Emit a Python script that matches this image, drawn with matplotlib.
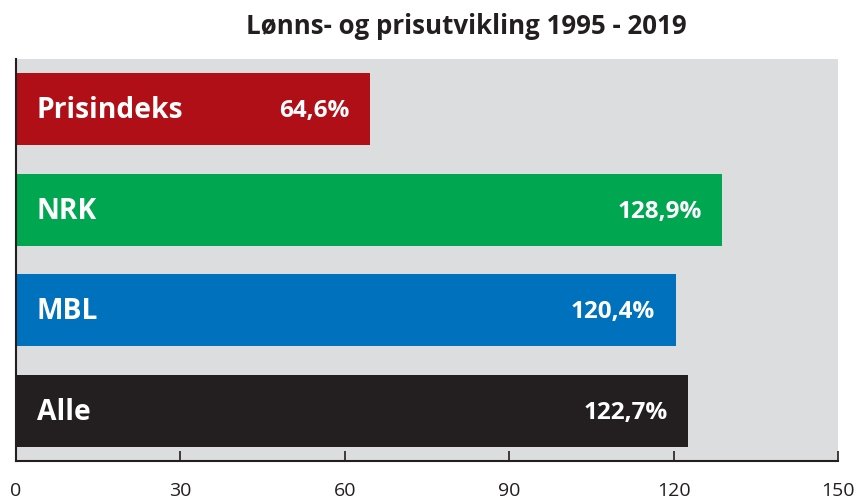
import matplotlib
matplotlib.use("Agg")
import matplotlib.pyplot as plt

categories = ["Prisindeks", "NRK", "MBL", "Alle"]
values = [64.6, 128.9, 120.4, 122.7]
value_labels = ["64,6%", "128,9%", "120,4%", "122,7%"]
colors = ["#B10F17", "#00A650", "#0071BC", "#231F20"]
xticks = [0, 30, 60, 90, 120, 150]
title = "Lønns- og prisutvikling 1995 - 2019"

plt.rcParams["font.family"] = ["Open Sans", "DejaVu Sans"]

fig = plt.figure(figsize=(8.56, 4.99), dpi=100)
ax = fig.add_axes([16 / 856, 38 / 499, (838 - 16) / 856, (461 - 59) / 499])
ax.set_facecolor("#DCDDDE")

ypos = list(range(len(categories)))
ax.barh(ypos, values, height=0.715, color=colors, zorder=2)

for y, cat, v, lab in zip(ypos, categories, values, value_labels):
    ax.annotate(cat, xy=(0, y), xytext=(15, -1), textcoords="offset points",
                ha="left", va="center", color="white", fontsize=20.3,
                fontweight="bold", zorder=3)
    ax.annotate(lab, xy=(v, y), xytext=(-15, -1.5), textcoords="offset points",
                ha="right", va="center", color="white", fontsize=17.5,
                fontweight="bold", zorder=3)

ax.set_xlim(0, 150)
ax.set_ylim(3.5, -0.5)
ax.set_xticks(xticks)
ax.set_xticklabels([str(t) for t in xticks], fontsize=14)
ax.set_yticks([])
ax.tick_params(axis="x", direction="in", length=7, width=1.2, color="#231F20",
               pad=15, labelcolor="#231F20")
for s in ["top", "right"]:
    ax.spines[s].set_visible(False)
for s in ["left", "bottom"]:
    ax.spines[s].set_color("#231F20")
    ax.spines[s].set_linewidth(1.5)
    ax.spines[s].set_zorder(4)

fig.text(466 / 856, 1 - 26 / 499, title, ha="center", va="center",
         fontsize=18.6, fontweight="bold", color="#231F20")

fig.savefig("out.png", dpi=100)
